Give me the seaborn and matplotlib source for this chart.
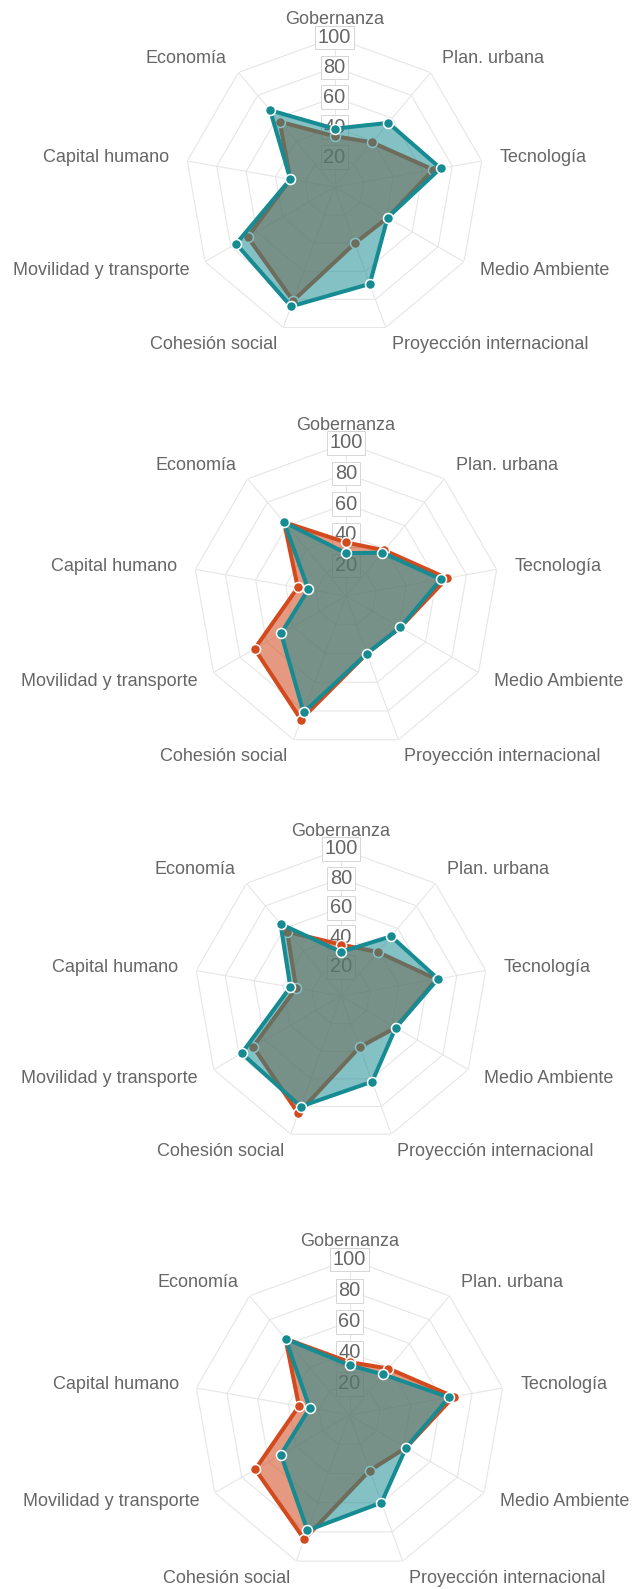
import numpy as np
import pandas as pd
import matplotlib
matplotlib.use("Agg")
import matplotlib.pyplot as plt
import seaborn as sns

sns.set_theme(style="white")
plt.rcParams["font.family"] = ["Liberation Sans", "DejaVu Sans"]

categories = ["Gobernanza", "Plan. urbana", "Tecnología", "Medio Ambiente",
              "Proyección internacional", "Cohesión social",
              "Movilidad y transporte", "Capital humano", "Economía"]
tick_values = [20, 40, 60, 80, 100]

teal_1 = [39, 56, 72, 41, 69, 85, 76, 30, 67]
orange_1 = [34, 39, 67, 41, 40, 81, 67, 30, 57]
teal_2 = [28, 37, 63, 41, 40, 81, 49, 25, 63]
orange_2 = [35, 39, 67, 41, 40, 86, 69, 32, 63]
teal_3 = [30, 53, 67, 43, 62, 80, 78, 35, 64]
orange_3 = [35, 39, 66, 43, 37, 85, 69, 31, 57]
teal_4 = [32, 34, 65, 42, 60, 79, 51, 26, 64]
orange_4 = [34, 39, 68, 42, 38, 85, 70, 33, 64]

TEAL = "#168b92"
ORANGE = "#d24a1e"
GRID = "#e6e6e6"
TEXT = "#666666"

W, H = 640, 1589
fig = plt.figure(figsize=(W / 100, H / 100), dpi=100)
fig.patch.set_facecolor("white")

# centre (px) and outer radius (px) of each radar
panels = [
    ((334.5, 187.0), 149.5, teal_1, orange_1),
    ((346.0, 596.0), 153.0, teal_2, orange_2),
    ((341.0, 996.0), 147.0, teal_3, orange_3),
    ((349.5, 1415.0), 155.5, teal_4, orange_4),
]

n = len(categories)
angles = np.arange(n) * 2 * np.pi / n
closed = np.append(angles, angles[0])


def draw_series(ax, values, color, z, alpha):
    vals = np.append(values, values[0])
    ax.fill(closed, vals, color=color, alpha=alpha, lw=0, zorder=z)
    df = pd.DataFrame({"ang": closed, "val": vals})
    sns.lineplot(data=df, x="ang", y="val", sort=False, estimator=None,
                 color=color, lw=2.9, ax=ax, zorder=z + 0.1, legend=False)
    pts = pd.DataFrame({"ang": angles, "val": values})
    sns.scatterplot(data=pts, x="ang", y="val", color=color, s=52,
                    edgecolor="white", linewidth=1.1, ax=ax,
                    zorder=z + 0.2, legend=False, clip_on=False)


for (cx, cy), r, teal, orange in panels:
    ax = fig.add_axes([(cx - r) / W, 1 - (cy + r) / H, 2 * r / W, 2 * r / H],
                      projection="polar")
    ax.set_theta_zero_location("N")
    ax.set_theta_direction(-1)
    ax.set_ylim(0, 100)
    ax.grid(False)
    ax.set_xticks([])
    ax.set_yticks([])
    ax.spines["polar"].set_visible(False)
    ax.set_facecolor("none")

    # polygonal rings and spokes
    for v in tick_values:
        ax.plot(closed, [v] * (n + 1), color=GRID, lw=0.8, zorder=1)
    for a in angles:
        ax.plot([a, a], [0, 100], color=GRID, lw=0.8, zorder=1)

    # scale labels on the top spoke
    for v in tick_values:
        ax.text(0, v, str(v), ha="center", va="center", fontsize=14.4,
                color=TEXT, zorder=2,
                bbox=dict(boxstyle="square,pad=0.12", fc="white",
                          ec="#d6d6d6", lw=0.7))

    # category labels
    lab_r = 100 * (r + 18) / r
    for a, name in zip(angles, categories):
        deg = np.degrees(a)
        if np.isclose(deg, 0):
            ha = "center"
        elif deg < 180:
            ha = "left"
        else:
            ha = "right"
        ax.text(a, lab_r, name, ha=ha, va="center", fontsize=12.96,
                color=TEXT, clip_on=False)

    draw_series(ax, orange, ORANGE, 3, 0.56)
    draw_series(ax, teal, TEAL, 6, 0.53)
    ax.set_xlabel("")
    ax.set_ylabel("")

fig.savefig("out.png", dpi=100, facecolor="white")
